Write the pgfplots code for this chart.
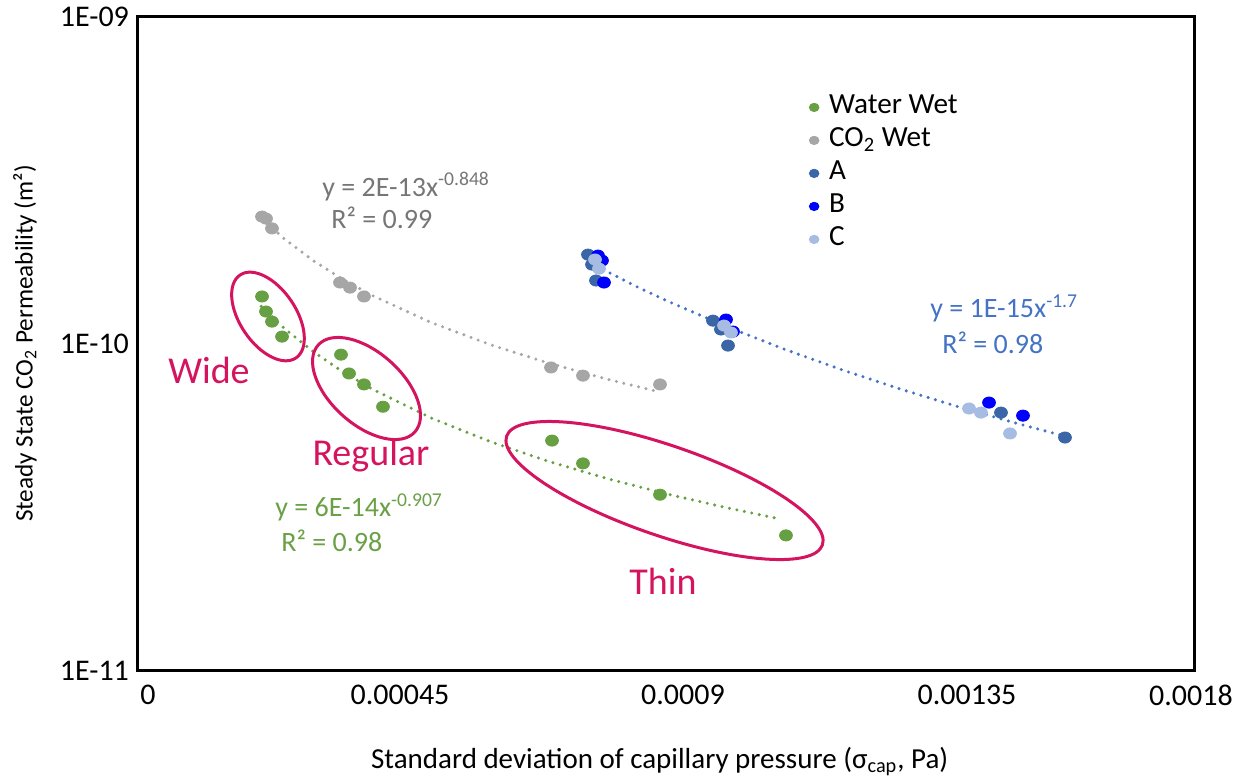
\documentclass[border=0pt]{standalone}
\usepackage{fontspec}
\setmainfont{Carlito}
\usepackage{pgfplots}
\pgfplotsset{compat=1.18}

\definecolor{wwgreen}{HTML}{67A043}
\definecolor{wwtext}{HTML}{6AA046}
\definecolor{cogray}{HTML}{A6A6A6}
\definecolor{cotext}{HTML}{767676}
\definecolor{serA}{HTML}{3A66A7}
\definecolor{serB}{HTML}{0000FF}
\definecolor{serC}{HTML}{A6BCE2}
\definecolor{fitblue}{HTML}{4472C4}
\definecolor{crimson}{HTML}{D5145F}

\begin{document}
\begin{tikzpicture}
\begin{axis}[
  name=ax,
  at={(0,0)}, anchor=south west,
  scale only axis, width=528pt, height=327pt,
  xmin=0, xmax=0.0018,
  ymode=log, ymin=1e-11, ymax=1e-9,
  clip=false,
  axis line style={line width=1.5pt, black},
  major tick length=0pt, minor tick length=0pt,
  scaled x ticks=false,
  xtick={1.7e-5,4.466e-4,9.29e-4,1.4131e-3,1.7949e-3},
  xticklabels={0,0.00045,0.0009,0.00135,0.0018},
  ytick={1e-11,1e-10,1e-9},
  yticklabels={1E-11,1E-10,1E-09},
  yminorticks=false,
  tick label style={font=\fontsize{15}{17}\selectfont, text=black},
  xticklabel style={yshift=-3.5pt},
  yticklabel style={xshift=-1pt},
  xlabel={Standard deviation of capillary pressure (σ\textsubscript{cap}, Pa)},
  ylabel={Steady State CO\textsubscript{2} Permeability (m²)},
  x label style={at={(axis description cs:0.494,-0.139)}, anchor=center, font=\fontsize{14.5}{17}\selectfont},
  y label style={at={(axis description cs:-0.107,0.5)}, anchor=center, font=\fontsize{12.6}{15}\selectfont},
  legend style={at={(rel axis cs:0.6295,0.8869)}, anchor=north west, draw=none, fill=none,
    inner sep=0pt, row sep=0pt, font=\fontsize{14.6}{17}\selectfont,
    nodes={text height=9.5pt, text depth=3pt, inner sep=2pt}},
  legend cell align=left,
  legend image code/.code={%
    \path[draw=none, fill=none] (0pt,-1pt) rectangle (11pt,1pt);
    \draw[mark repeat=2,mark phase=2,#1] plot coordinates {(3pt,0pt)(5.5pt,0pt)(8pt,0pt)};},
  legend image post style={mark size=2.1pt},
  every axis plot/.append style={mark=*, mark size=2.8pt, mark options={xscale=1.15}},
  trend/.style={forget plot, no marks, line width=1.7pt, line cap=round, dash pattern=on 0pt off 3.8pt},
]

% power-law trend lines (dotted)
\addplot[trend, wwgreen]
  coordinates {(2.1e-4,1.300e-10) (2.5e-4,1.110e-10) (3e-4,9.406e-11) (3.5e-4,8.179e-11) (4e-4,7.245e-11)
  (5e-4,5.918e-11) (6e-4,5.016e-11) (7e-4,4.361e-11) (8e-4,3.864e-11) (9e-4,3.473e-11)
  (1e-3,3.157e-11) (1.09e-3,2.919e-11)};
\addplot[trend, cogray]
  coordinates {(2.1e-4,2.419e-10) (2.5e-4,2.086e-10) (3e-4,1.787e-10) (3.5e-4,1.568e-10) (4e-4,1.401e-10)
  (5e-4,1.159e-10) (6e-4,9.929e-11) (7e-4,8.713e-11) (8e-4,7.780e-11) (8.8e-4,7.176e-11)};
\addplot[trend, fitblue]
  coordinates {(7.7e-4,1.767e-10) (8.5e-4,1.493e-10) (9e-4,1.355e-10) (1e-3,1.133e-10) (1.1e-3,9.637e-11)
  (1.2e-3,8.311e-11) (1.3e-3,7.254e-11) (1.4e-3,6.395e-11) (1.5e-3,5.688e-11) (1.58e-3,5.208e-11)};

% Water wet
\addplot[only marks, color=wwgreen] coordinates {
  (2.114e-4,1.393e-10) (2.182e-4,1.253e-10) (2.284e-4,1.167e-10) (2.455e-4,1.050e-10)
  (3.460e-4,9.25e-11) (3.597e-4,8.10e-11) (3.852e-4,7.50e-11) (4.176e-4,6.41e-11)
  (7.057e-4,5.05e-11) (7.585e-4,4.30e-11) (8.898e-4,3.45e-11) (1.1045e-3,2.59e-11)};
\addlegendentry{Water Wet}
% CO2 wet
\addplot[only marks, color=cogray] coordinates {
  (2.114e-4,2.445e-10) (2.182e-4,2.41e-10) (2.284e-4,2.25e-10)
  (3.443e-4,1.537e-10) (3.614e-4,1.483e-10) (3.852e-4,1.393e-10)
  (7.040e-4,8.45e-11) (7.585e-4,7.98e-11) (8.898e-4,7.50e-11)};
\addlegendentry{CO\textsubscript{2} Wet}
% A
\addplot[only marks, color=serA] coordinates {
  (7.670e-4,1.871e-10) (7.739e-4,1.744e-10) (7.807e-4,1.559e-10)
  (9.801e-4,1.175e-10) (9.937e-4,1.104e-10) (1.0057e-3,9.86e-11)
  (1.4710e-3,6.15e-11) (1.5801e-3,5.16e-11)};
\addlegendentry{A}
% B
\addplot[only marks, color=serB] coordinates {
  (7.841e-4,1.858e-10) (7.909e-4,1.794e-10) (7.943e-4,1.537e-10)
  (1.0023e-3,1.184e-10) (1.0142e-3,1.088e-10)
  (1.4506e-3,6.60e-11) (1.5085e-3,6.02e-11)};
\addlegendentry{B}
% C
\addplot[only marks, color=serC] coordinates {
  (7.790e-4,1.807e-10) (7.858e-4,1.695e-10)
  (9.989e-4,1.135e-10) (1.0108e-3,1.081e-10)
  (1.4165e-3,6.33e-11) (1.4369e-3,6.15e-11) (1.4864e-3,5.31e-11)};
\addlegendentry{C}

% anchor points for annotations
\coordinate (eW) at (rel axis cs:0.1231,0.5413);
\coordinate (eR) at (rel axis cs:0.2164,0.4312);
\coordinate (eT) at (rel axis cs:0.4986,0.2752);
\coordinate (tW) at (rel axis cs:0.0672,0.4587);
\coordinate (tR) at (rel axis cs:0.2206,0.3287);
\coordinate (tT) at (rel axis cs:0.4972,0.1361);
\coordinate (gq1) at (rel axis cs:0.1742,0.7401);
\coordinate (gq2) at (rel axis cs:0.1828,0.6927);
\coordinate (bq1) at (rel axis cs:0.7500,0.5535);
\coordinate (bq2) at (rel axis cs:0.7614,0.5015);
\coordinate (wq1) at (rel axis cs:0.1297,0.2492);
\coordinate (wq2) at (rel axis cs:0.1354,0.1988);
\end{axis}

% pore-size groups
\draw[crimson, line width=1.5pt, rotate around={-56:(eW)}] (eW) ellipse (25pt and 14pt);
\draw[crimson, line width=1.5pt, rotate around={-42:(eR)}] (eR) ellipse (32.5pt and 18pt);
\draw[crimson, line width=1.5pt, rotate around={-19:(eT)}] (eT) ellipse (83.5pt and 22.5pt);
\node[text=crimson, font=\fontsize{19}{23}\selectfont] at (tW) {Wide};
\node[text=crimson, font=\fontsize{19}{23}\selectfont] at (tR) {Regular};
\node[text=crimson, font=\fontsize{19}{23}\selectfont] at (tT) {Thin};

% fit equations
\node[anchor=west, inner sep=0pt, text=cotext, font=\fontsize{14}{16}\selectfont] at (gq1) {y = 2E-13x\textsuperscript{-0.848}};
\node[anchor=west, inner sep=0pt, text=cotext, font=\fontsize{14}{16}\selectfont] at (gq2) {R² = 0.99};
\node[anchor=west, inner sep=0pt, text=fitblue, font=\fontsize{14}{16}\selectfont] at (bq1) {y = 1E-15x\textsuperscript{-1.7}};
\node[anchor=west, inner sep=0pt, text=fitblue, font=\fontsize{14}{16}\selectfont] at (bq2) {R² = 0.98};
\node[anchor=west, inner sep=0pt, text=wwtext, font=\fontsize{14}{16}\selectfont] at (wq1) {y = 6E-14x\textsuperscript{-0.907}};
\node[anchor=west, inner sep=0pt, text=wwtext, font=\fontsize{14}{16}\selectfont] at (wq2) {R² = 0.98};

\useasboundingbox (-69pt,-55.5pt) rectangle (551.5pt,333.5pt);
\end{tikzpicture}
\end{document}
